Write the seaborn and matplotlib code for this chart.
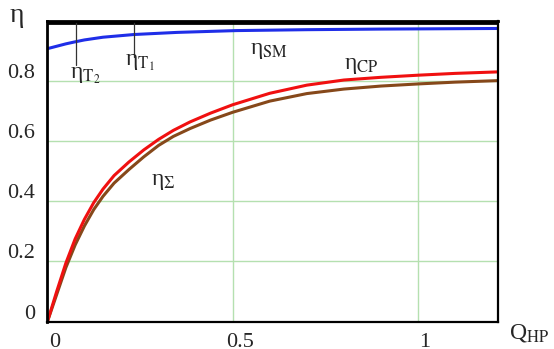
import numpy as np
import pandas as pd
import matplotlib
matplotlib.use("Agg")
import matplotlib.pyplot as plt
import matplotlib.transforms as mtrans
import seaborn as sns

# Daten
q_cp = [0, 0.025, 0.05, 0.075, 0.1, 0.125, 0.15, 0.18, 0.22, 0.26, 0.30, 0.34,
        0.385, 0.44, 0.5, 0.6, 0.7, 0.8, 0.9, 1.0, 1.1, 1.216]
eta_cp = [0, 0.10, 0.195, 0.275, 0.34, 0.395, 0.44, 0.485, 0.53, 0.57, 0.605, 0.635,
          0.663, 0.692, 0.72, 0.758, 0.785, 0.802, 0.811, 0.818, 0.824, 0.829]

q_sum = [0, 0.025, 0.05, 0.075, 0.1, 0.125, 0.15, 0.18, 0.22, 0.26, 0.30, 0.34,
         0.385, 0.44, 0.5, 0.6, 0.7, 0.8, 0.9, 1.0, 1.1, 1.216]
eta_sum = [0, 0.09, 0.18, 0.255, 0.318, 0.372, 0.416, 0.46, 0.505, 0.547, 0.585, 0.615,
           0.641, 0.669, 0.695, 0.732, 0.757, 0.772, 0.782, 0.789, 0.795, 0.80]

q_sm = [0, 0.025, 0.05, 0.076, 0.1, 0.15, 0.234, 0.35, 0.51, 0.7, 0.9, 1.216]
eta_sm = [0.906, 0.914, 0.922, 0.929, 0.935, 0.944, 0.953, 0.96, 0.966, 0.969, 0.971, 0.973]

q_t = [0, 1.216]
eta_t1 = [0.995, 0.995]
eta_t2 = [0.99, 0.99]

x_ticks = [0, 0.5, 1]
x_tick_labels = ["0", "0.5", "1"]
y_ticks = [0, 0.2, 0.4, 0.6, 0.8]
y_tick_labels = ["0", "0.2", "0.4", "0.6", "0.8"]


def serie(q, eta, name):
    return pd.DataFrame({"Q": q, "eta": eta, "name": name})


sns.set_style("white")
plt.rcParams["font.family"] = ["Liberation Serif", "DejaVu Serif"]
plt.rcParams["mathtext.fontset"] = "stix"

fig = plt.figure(figsize=(5.54, 3.49), dpi=100)
ax = fig.add_axes([0.0855, 0.078, 0.8135, 0.862])

grid_col = "#b5e0b0"
for x in [0.5, 1.0]:
    ax.axvline(x, color=grid_col, lw=1.0, zorder=0)
for y in [0.2, 0.4, 0.6, 0.8]:
    ax.axhline(y, color=grid_col, lw=1.0, zorder=0)

sns.lineplot(data=serie(q_t, eta_t1, "T1"), x="Q", y="eta", color="black",
             lw=2.0, sort=False, estimator=None, ax=ax)
sns.lineplot(data=serie(q_t, eta_t2, "T2"), x="Q", y="eta", color="black",
             lw=2.0, sort=False, estimator=None, ax=ax)
sns.lineplot(data=serie(q_sm, eta_sm, "SM"), x="Q", y="eta", color="#1f2ee8",
             lw=2.2, sort=False, estimator=None, ax=ax)
sns.lineplot(data=serie(q_sum, eta_sum, "Sum"), x="Q", y="eta", color="#86481a",
             lw=2.2, sort=False, estimator=None, ax=ax)
sns.lineplot(data=serie(q_cp, eta_cp, "CP"), x="Q", y="eta", color="#f01010",
             lw=2.2, sort=False, estimator=None, ax=ax)

# Hinweislinien fuer eta_T
ax.plot([0.076, 0.076], [0.998, 0.851], color="#333333", lw=0.9)
ax.plot([0.234, 0.234], [0.998, 0.878], color="#333333", lw=0.9)

ax.set_xlim(0, 1.216)
ax.set_ylim(0, 0.998)
ax.set_xticks(x_ticks, x_tick_labels)
ax.set_yticks(y_ticks, y_tick_labels)
ax.tick_params(length=0, labelsize=16)
ax.tick_params(axis="x", pad=8)
ax.tick_params(axis="y", pad=9)
ax.set_xlabel("")
ax.set_ylabel("")

for lab in ax.get_xticklabels():
    lab.set_transform(lab.get_transform() + mtrans.ScaledTranslation(7 / 100, 0, fig.dpi_scale_trans))
for lab in ax.get_yticklabels():
    lab.set_transform(lab.get_transform() + mtrans.ScaledTranslation(0, 10 / 100, fig.dpi_scale_trans))

for side in ["left", "top", "right", "bottom"]:
    ax.spines[side].set_color("black")
ax.spines["left"].set_linewidth(2.0)
ax.spines["top"].set_linewidth(2.0)
ax.spines["right"].set_linewidth(1.6)
ax.spines["bottom"].set_linewidth(1.6)

ts = 17
ax.text(0.062, 0.818, r"η$_{\mathrm{T}_2}$", fontsize=ts, ha="left", va="center")
ax.text(0.21, 0.86, r"η$_{\mathrm{T}_1}$", fontsize=ts, ha="left", va="center")
ax.text(0.546, 0.90, r"η$_{\mathrm{SM}}$", fontsize=ts, ha="left", va="center")
ax.text(0.80, 0.85, r"η$_{\mathrm{CP}}$", fontsize=ts, ha="left", va="center")
ax.text(0.28, 0.465, r"η$_{\Sigma}$", fontsize=ts, ha="left", va="center")

fig.text(0.018, 0.955, "η", fontsize=20, ha="left", va="center")
fig.text(0.918, 0.045, r"Q$_{\mathrm{HP}}$", fontsize=17, ha="left", va="center")

fig.savefig("out.png", dpi=100)
